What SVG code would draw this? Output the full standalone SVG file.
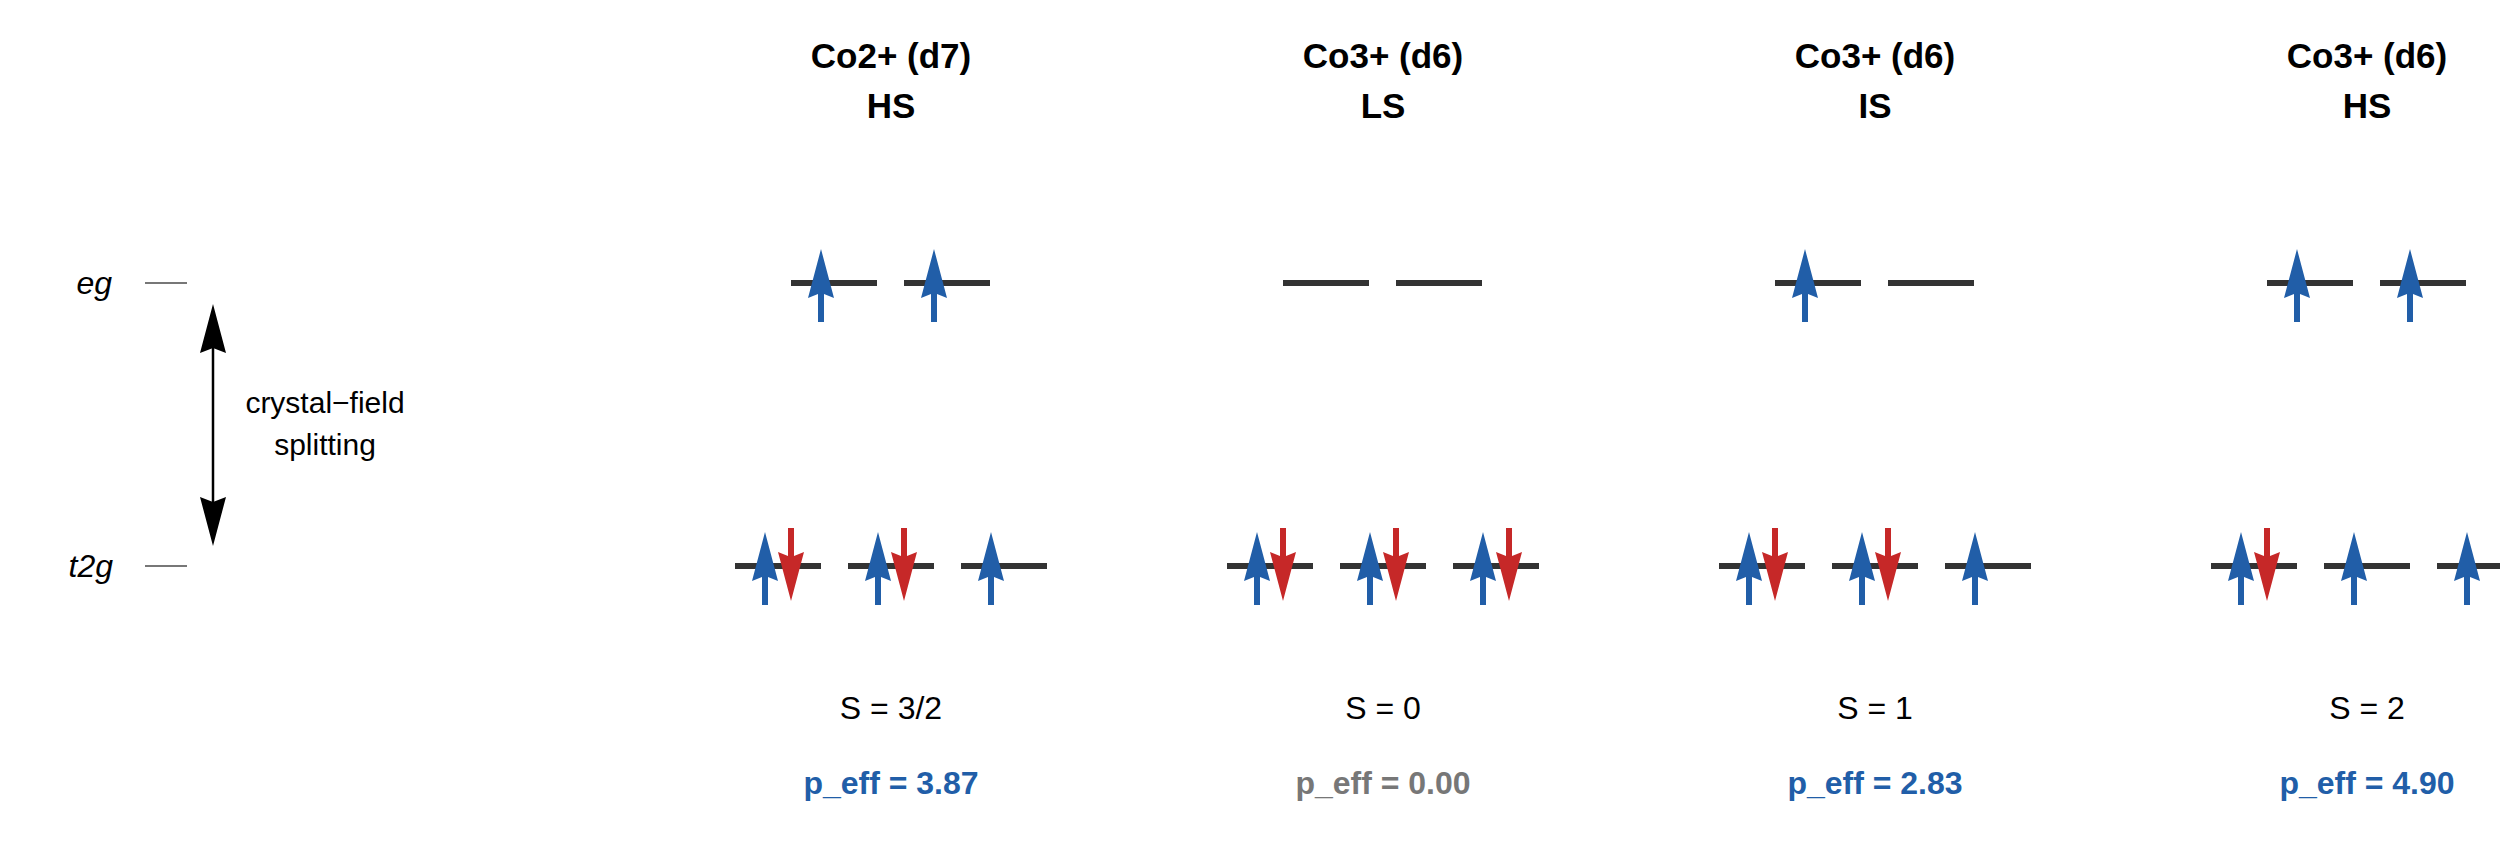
<svg xmlns="http://www.w3.org/2000/svg" xmlns:xlink="http://www.w3.org/1999/xlink" width="2500" height="850" viewBox="0 0 2500 850">
<style>
text { font-family: "Liberation Sans", Arial, sans-serif; }
.title { font-size: 35px; font-weight: bold; fill: #000; text-anchor: middle; }
.spin { font-size: 32px; fill: #000; text-anchor: middle; }
.peff { font-size: 32px; font-weight: bold; text-anchor: middle; }
.blue { fill: #215EA8; }
.gray { fill: #777777; }
.lvl { stroke: #333333; stroke-width: 6; fill: none; }
.ref { stroke: #777777; stroke-width: 2; fill: none; }
.lab { font-size: 32px; font-style: italic; text-anchor: end; fill: #000; }
.cf { font-size: 30px; text-anchor: middle; fill: #000; }
</style>
<defs>
<path id="up" d="M0,0 L13,49 L3,45 L3,73 L-3,73 L-3,45 L-13,49 Z" fill="#215EA8"/>
<path id="dn" d="M0,0 L13,-49 L3,-45 L3,-73 L-3,-73 L-3,-45 L-13,-49 Z" fill="#C62828"/>
</defs>
<rect width="2500" height="850" fill="#ffffff"/>

<g id="legend">
<text class="lab" x="112" y="294">eg</text>
<text class="lab" x="113" y="577">t2g</text>
<line class="ref" x1="145" y1="283" x2="187" y2="283"/>
<line class="ref" x1="145" y1="566" x2="187" y2="566"/>
<line x1="213" y1="345" x2="213" y2="505" stroke="#000" stroke-width="2.5"/>
<path d="M213,304 L226,353 L213,348 L200,353 Z" fill="#000"/>
<path d="M213,546 L226,497 L213,502 L200,497 Z" fill="#000"/>
<text class="cf" x="325" y="413">crystal−field</text>
<text class="cf" x="325" y="455">splitting</text>
</g>

<g id="co2-hs">
<text class="title" x="891" y="68">Co2+ (d7)</text>
<text class="title" x="891" y="118">HS</text>
<line class="lvl" x1="791" y1="283" x2="877" y2="283"/>
<line class="lvl" x1="904" y1="283" x2="990" y2="283"/>
<line class="lvl" x1="735" y1="566" x2="821" y2="566"/>
<line class="lvl" x1="848" y1="566" x2="934" y2="566"/>
<line class="lvl" x1="961" y1="566" x2="1047" y2="566"/>
<use xlink:href="#up" x="821" y="249"/>
<use xlink:href="#up" x="934" y="249"/>
<use xlink:href="#up" x="765" y="532"/>
<use xlink:href="#dn" x="791" y="601"/>
<use xlink:href="#up" x="878" y="532"/>
<use xlink:href="#dn" x="904" y="601"/>
<use xlink:href="#up" x="991" y="532"/>
<text class="spin" x="891" y="719">S = 3/2</text>
<text class="peff blue" x="891" y="794">p_eff = 3.87</text>
</g>

<g id="co3-ls">
<text class="title" x="1383" y="68">Co3+ (d6)</text>
<text class="title" x="1383" y="118">LS</text>
<line class="lvl" x1="1283" y1="283" x2="1369" y2="283"/>
<line class="lvl" x1="1396" y1="283" x2="1482" y2="283"/>
<line class="lvl" x1="1227" y1="566" x2="1313" y2="566"/>
<line class="lvl" x1="1340" y1="566" x2="1426" y2="566"/>
<line class="lvl" x1="1453" y1="566" x2="1539" y2="566"/>
<use xlink:href="#up" x="1257" y="532"/>
<use xlink:href="#dn" x="1283" y="601"/>
<use xlink:href="#up" x="1370" y="532"/>
<use xlink:href="#dn" x="1396" y="601"/>
<use xlink:href="#up" x="1483" y="532"/>
<use xlink:href="#dn" x="1509" y="601"/>
<text class="spin" x="1383" y="719">S = 0</text>
<text class="peff gray" x="1383" y="794">p_eff = 0.00</text>
</g>

<g id="co3-is">
<text class="title" x="1875" y="68">Co3+ (d6)</text>
<text class="title" x="1875" y="118">IS</text>
<line class="lvl" x1="1775" y1="283" x2="1861" y2="283"/>
<line class="lvl" x1="1888" y1="283" x2="1974" y2="283"/>
<line class="lvl" x1="1719" y1="566" x2="1805" y2="566"/>
<line class="lvl" x1="1832" y1="566" x2="1918" y2="566"/>
<line class="lvl" x1="1945" y1="566" x2="2031" y2="566"/>
<use xlink:href="#up" x="1805" y="249"/>
<use xlink:href="#up" x="1749" y="532"/>
<use xlink:href="#dn" x="1775" y="601"/>
<use xlink:href="#up" x="1862" y="532"/>
<use xlink:href="#dn" x="1888" y="601"/>
<use xlink:href="#up" x="1975" y="532"/>
<text class="spin" x="1875" y="719">S = 1</text>
<text class="peff blue" x="1875" y="794">p_eff = 2.83</text>
</g>

<g id="co3-hs">
<text class="title" x="2367" y="68">Co3+ (d6)</text>
<text class="title" x="2367" y="118">HS</text>
<line class="lvl" x1="2267" y1="283" x2="2353" y2="283"/>
<line class="lvl" x1="2380" y1="283" x2="2466" y2="283"/>
<line class="lvl" x1="2211" y1="566" x2="2297" y2="566"/>
<line class="lvl" x1="2324" y1="566" x2="2410" y2="566"/>
<line class="lvl" x1="2437" y1="566" x2="2523" y2="566"/>
<use xlink:href="#up" x="2297" y="249"/>
<use xlink:href="#up" x="2410" y="249"/>
<use xlink:href="#up" x="2241" y="532"/>
<use xlink:href="#dn" x="2267" y="601"/>
<use xlink:href="#up" x="2354" y="532"/>
<use xlink:href="#up" x="2467" y="532"/>
<text class="spin" x="2367" y="719">S = 2</text>
<text class="peff blue" x="2367" y="794">p_eff = 4.90</text>
</g>
</svg>
